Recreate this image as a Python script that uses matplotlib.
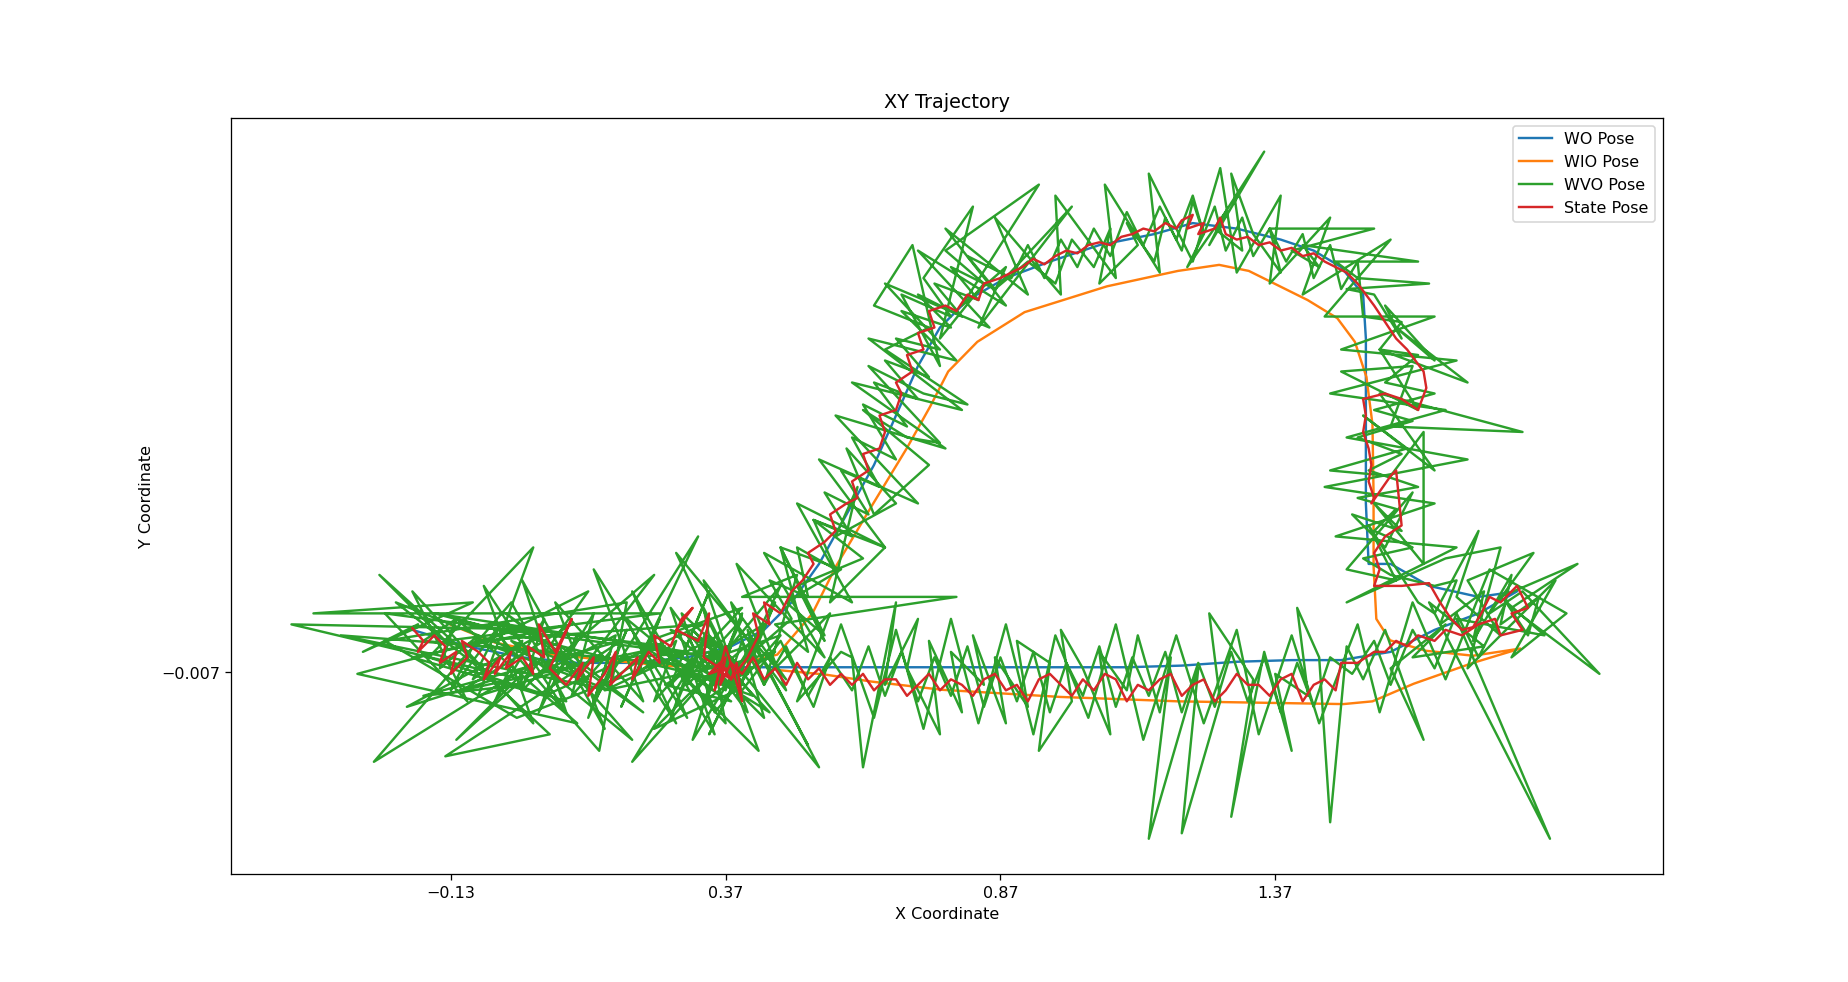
import matplotlib
matplotlib.use("Agg")
import matplotlib.pyplot as plt

# --- trajectory data (x, y) ---
wo_x = [-0.20, -0.10, 0.00, 0.10, 0.20, 0.30, 0.38, 0.44, 0.49, 0.54, 0.59, 0.64, 0.68, 0.72,
        0.76, 0.81, 0.88, 0.96, 1.05, 1.15, 1.22, 1.30, 1.38, 1.44, 1.49, 1.53, 1.535, 1.535,
        1.535, 1.54, 1.58, 1.65, 1.74, 1.81, 1.74, 1.66, 1.58, 1.49, 1.40, 1.30, 1.20, 1.10,
        1.00, 0.90, 0.80, 0.70, 0.60, 0.50, 0.40]
wo_y = [0.07, 0.04, 0.02, 0.01, 0.01, 0.02, 0.04, 0.07, 0.12, 0.19, 0.28, 0.37, 0.46, 0.55,
        0.62, 0.67, 0.71, 0.74, 0.77, 0.79, 0.81, 0.80, 0.78, 0.76, 0.73, 0.68, 0.60, 0.45,
        0.30, 0.19, 0.19, 0.15, 0.13, 0.14, 0.10, 0.07, 0.03, 0.015, 0.015, 0.012, 0.005, 0.002,
        0.002, 0.002, 0.002, 0.002, 0.002, 0.002, 0.002]

wio_x = [-0.13, -0.05, 0.056, 0.163, 0.27, 0.378, 0.464, 0.528, 0.571, 0.635, 0.70, 0.742,
         0.775, 0.828, 0.914, 1.064, 1.193, 1.268, 1.322, 1.429, 1.483, 1.515, 1.536, 1.547,
         1.549, 1.549, 1.554, 1.579, 1.644, 1.73, 1.816, 1.73, 1.622, 1.547, 1.494, 1.193,
         0.979, 0.764, 0.635, 0.549, 0.464]
wio_y = [0.079, 0.047, 0.025, 0.014, 0.004, 0.004, 0.025, 0.10, 0.186, 0.294, 0.401, 0.476,
         0.54, 0.594, 0.648, 0.695, 0.723, 0.734, 0.723, 0.67, 0.637, 0.594, 0.53, 0.444,
         0.315, 0.186, 0.09, 0.051, 0.032, 0.023, 0.036, 0.01, -0.028, -0.06, -0.065, -0.06,
         -0.052, -0.039, -0.024, -0.011, -0.003]

# visual odometry, first lap (large spikes)
wvo_lap1_x = [
    -0.19, -0.29, -0.09, -0.38, 0.25, -0.14, -0.26, -0.05, -0.21, 0.05, -0.42, 0.00, -0.12, 0.02,
    -0.27, -0.02, 0.08, -0.17, 0.02, -0.08, 0.15, -0.12, 0.10, -0.30, -0.04, 0.12, 0.00, -0.18,
    0.18, -0.14, 0.05, -0.09, -0.23, 0.12, -0.03, 0.22, 0.07, -0.16, 0.30, -0.01, -0.25, 0.19,
    0.14, -0.06, 0.26, -0.11, 0.09, -0.20, 0.04, 0.33, -0.08, 0.16, -0.33, 0.06, 0.20, -0.02,
    0.11, 0.24, 0.03, 0.17,
    0.13, 0.32, 0.21, 0.28, 0.19, 0.36, 0.23, 0.40, 0.27, 0.34, 0.29, 0.45, 0.31, 0.38, 0.28,
    0.42, 0.34, 0.47, 0.37, 0.54, 0.41, 0.44, 0.50, 0.40, 0.79, 0.46, 0.52, 0.47, 0.55, 0.48,
    0.58,
    0.47, 0.55, 0.50, 0.62, 0.53, 0.66, 0.56, 0.61, 0.57, 0.68, 0.59, 0.64, 0.74, 0.62, 0.70,
    0.76, 0.63, 0.73, 0.81, 0.66, 0.74, 0.64, 0.71, 0.76, 0.69, 0.78, 0.73, 0.82, 0.76, 0.84,
    0.77, 0.94, 0.80, 0.88, 0.83, 1.00, 0.86,
    0.92, 0.97, 1.00, 1.04, 1.07, 1.05, 1.12, 1.10, 1.15, 1.17, 1.20, 1.22, 1.24, 1.21, 1.28,
    1.25, 1.35, 1.26, 1.31, 1.29, 1.33, 1.38, 1.36, 1.55, 1.40, 1.45, 1.42, 1.63, 1.48, 1.52,
    1.65, 1.50,
    1.55, 1.60, 1.57, 1.66, 1.59, 1.72, 1.56, 1.63, 1.49, 1.62, 1.58, 1.82, 1.56, 1.66, 1.53,
    1.61, 1.47, 1.58, 1.64, 1.64, 1.55, 1.60, 1.51, 1.57, 1.62, 1.50, 1.59, 1.54, 1.63,
    1.66, 1.74, 1.70, 1.78, 1.72, 1.84, 1.76, 1.82, 1.96, 1.80, 1.92, 1.78, 1.86, 1.70, 1.87,
    1.65, 1.75, 1.62, 1.68, 1.58, 1.64, 1.57, 1.53,
    1.50, 1.47, 1.45, 1.41, 1.43, 1.37, 1.40, 1.35, 1.29, 1.33, 1.25, 1.27, 1.20, 1.23, 1.14,
    1.18, 1.16, 1.12, 1.10, 1.05, 1.07, 1.02, 0.98, 1.00, 0.94, 0.96, 0.90, 0.92, 0.86, 0.88,
    0.82, 0.84, 0.78, 0.80, 0.74, 0.76, 0.70, 0.72, 0.66, 0.68, 0.62, 0.60,
    0.58, 0.50, 0.56, 0.45, 0.52, 0.42, 0.48, 0.38, 0.44, 0.35, 0.46, 0.33, 0.40, 0.30, 0.43,
    0.36, 0.27, 0.39, 0.24, 0.37, 0.20, 0.34, 0.41, 0.29, 0.35, 0.47, 0.32, 0.22, 0.38, 0.26,
    0.44, 0.31, 0.36, 0.18, 0.40, 0.33, 0.37, 0.28, 0.42, 0.34, 0.15, 0.39, 0.30, 0.35, 0.38,
    0.36]
wvo_lap1_y = [
    0.08, 0.03, 0.12, 0.10, 0.10, 0.05, 0.17, -0.02, -0.07, 0.07, 0.08, -0.02, -0.13, 0.01,
    -0.17, 0.12, -0.06, 0.02, 0.22, -0.05, 0.02, 0.09, -0.10, -0.01, 0.06, 0.14, -0.03, -0.05,
    0.05, -0.16, -0.12, 0.01, 0.12, -0.02, 0.10, -0.08, 0.04, 0.10, 0.03, -0.09, 0.05, 0.12,
    -0.15, 0.08, 0.04, -0.04, 0.08, 0.02, -0.05, 0.08, 0.05, -0.04, 0.06, 0.03, -0.13, 0.05,
    0.00, 0.17, -0.01, 0.06,
    -0.06, 0.24, 0.01, -0.10, 0.09, -0.05, 0.05, 0.11, -0.03, 0.14, 0.02, -0.08, 0.07, 0.00,
    0.21, 0.04, -0.12, 0.15, 0.03, -0.18, 0.07, -0.03, 0.17, 0.13, 0.13, 0.08, 0.03, 0.22,
    0.06, 0.12, 0.18,
    0.22, 0.05, 0.15, 0.20, 0.27, 0.22, 0.12, 0.33, 0.24, 0.30, 0.40, 0.28, 0.37, 0.47, 0.42,
    0.41, 0.55, 0.50, 0.48, 0.58, 0.62, 0.66, 0.77, 0.55, 0.68, 0.64, 0.71, 0.84, 0.60, 0.70,
    0.76, 0.88, 0.66, 0.73, 0.62, 0.84, 0.69,
    0.74, 0.70, 0.78, 0.73, 0.80, 0.70, 0.77, 0.81, 0.74, 0.82, 0.76, 0.85, 0.79, 0.73, 0.83,
    0.77, 0.94, 0.80, 0.76, 0.90, 0.79, 0.72, 0.80, 0.80, 0.76, 0.73, 0.77, 0.74, 0.74, 0.71,
    0.70, 0.69,
    0.68, 0.60, 0.66, 0.56, 0.62, 0.52, 0.58, 0.47, 0.54, 0.55, 0.44, 0.43, 0.50, 0.36, 0.46,
    0.40, 0.36, 0.35, 0.43, 0.19, 0.30, 0.25, 0.28, 0.22, 0.32, 0.18, 0.16, 0.26, 0.12,
    0.10, 0.25, 0.13, 0.06, 0.16, 0.21, 0.10, 0.14, -0.01, 0.11, 0.19, 0.13, 0.06, 0.09, -0.31,
    0.12, 0.04, 0.02, 0.08, 0.00, -0.13, 0.07, -0.02,
    0.04, -0.28, 0.02, 0.11, -0.05, -0.01, -0.15, 0.03, -0.27, -0.02, 0.10, -0.06, -0.30, 0.00,
    -0.31, 0.02, -0.08, 0.06, -0.04, 0.03, -0.12, 0.00, 0.07, -0.06, -0.15, 0.01, 0.05, -0.07,
    0.02, -0.10, 0.06, -0.03, 0.03, -0.08, 0.05, -0.12, 0.00, 0.09, -0.03, 0.12, -0.18, 0.02,
    0.03, -0.06, 0.10, -0.01, -0.14, 0.05, -0.02, 0.12, -0.09, 0.00, 0.03, -0.06, 0.09, -0.02,
    -0.15, 0.04, 0.07, -0.04, -0.11, 0.02, -0.17, 0.06, -0.01, 0.10, -0.08, 0.06, 0.01, 0.04,
    -0.06, -0.03, 0.08, -0.13, 0.03, 0.02, -0.03, 0.11, -0.10, 0.00, -0.05, 0.05, -0.04, 0.01,
    0.06, -0.03, 0.04, 0.00]

# visual odometry, second lap (closer to the path)
wvo_lap2_x = [
    -0.18, -0.12, -0.15, -0.08, -0.13, -0.04, -0.09, 0.00, -0.05, 0.04, 0.00, 0.07, 0.03, 0.10,
    0.06, 0.13, 0.09, 0.16, 0.12, 0.19, 0.15, 0.22, 0.18, 0.25, 0.21, 0.28, 0.24, 0.31, 0.27,
    0.34, 0.30, 0.37, 0.33, 0.40, 0.36, 0.43, 0.39, 0.46, 0.42, 0.49, 0.45, 0.52,
    0.50, 0.57, 0.53, 0.60, 0.55, 0.63, 0.58, 0.65, 0.60, 0.68, 0.62, 0.70, 0.64, 0.72, 0.66,
    0.74, 0.68, 0.76, 0.69, 0.78, 0.72, 0.80, 0.75, 0.83, 0.78, 0.86, 0.81, 0.89,
    0.92, 0.95, 0.98, 1.01, 1.04, 1.07, 1.10, 1.13, 1.16, 1.19, 1.22, 1.24, 1.26, 1.28, 1.31,
    1.33, 1.36, 1.39, 1.42, 1.44, 1.47, 1.49, 1.52,
    1.53, 1.60, 1.56, 1.63, 1.57, 1.66, 1.55, 1.62, 1.52, 1.60, 1.54, 1.63, 1.52, 1.59, 1.55,
    1.62, 1.53, 1.58, 1.66,
    1.70, 1.67, 1.75, 1.73, 1.80, 1.78, 1.85, 1.83, 1.79, 1.74, 1.70, 1.66, 1.62, 1.58, 1.55,
    1.51,
    1.47, 1.44, 1.41, 1.38, 1.35, 1.32, 1.29, 1.26, 1.23, 1.20, 1.17, 1.14, 1.11, 1.08, 1.05,
    1.02, 0.99, 0.96, 0.93, 0.90, 0.87, 0.84, 0.81, 0.78, 0.75, 0.72, 0.69, 0.66, 0.63, 0.60,
    0.56, 0.52, 0.48, 0.44, 0.40, 0.37, 0.34, 0.38, 0.35]
wvo_lap2_y = [
    0.05, 0.09, 0.00, 0.06, -0.04, 0.08, -0.02, 0.05, -0.06, 0.09, -0.04, 0.03, -0.08, 0.06,
    -0.02, 0.10, -0.05, 0.03, -0.09, 0.07, -0.03, 0.02, -0.07, 0.09, -0.01, 0.05, -0.06, 0.02,
    -0.09, 0.08, -0.03, 0.04, -0.07, 0.10, 0.00, 0.06, -0.05, 0.12, 0.03, 0.09, 0.16, 0.13,
    0.22, 0.18, 0.27, 0.24, 0.32, 0.28, 0.36, 0.33, 0.42, 0.38, 0.48, 0.44, 0.52, 0.49, 0.56,
    0.53, 0.60, 0.58, 0.65, 0.62, 0.68, 0.64, 0.70, 0.67, 0.73, 0.69, 0.75, 0.71,
    0.77, 0.71, 0.78, 0.73, 0.80, 0.75, 0.83, 0.77, 0.84, 0.78, 0.86, 0.79, 0.84, 0.76, 0.82,
    0.75, 0.80, 0.74, 0.79, 0.71, 0.77, 0.69, 0.74,
    0.64, 0.63, 0.58, 0.57, 0.52, 0.50, 0.47, 0.45, 0.42, 0.39, 0.36, 0.33, 0.31, 0.29, 0.25,
    0.22, 0.20, 0.17, 0.15,
    0.16, 0.08, 0.14, 0.05, 0.17, 0.08, 0.13, 0.06, 0.12, 0.02, 0.10, 0.00, 0.07, -0.03, 0.05,
    -0.01,
    0.02, -0.07, 0.01, -0.08, 0.02, -0.06, 0.03, -0.07, 0.01, -0.08, 0.03, -0.05, 0.02, -0.07,
    0.04, -0.05, 0.01, -0.08, 0.03, -0.06, 0.02, -0.07, 0.04, -0.05, 0.02, -0.06, 0.03, -0.05,
    0.04, -0.04,
    0.02, -0.05, 0.04, -0.03, 0.05, -0.04, 0.03, -0.01, 0.02]

# visual odometry, third lap as (x, y) pairs (medium spread)
wvo_lap3 = [
    (-0.25, 0.10), (-0.10, -0.06), (-0.20, 0.14), (0.02, -0.10), (-0.07, 0.15), (0.08, -0.08),
    (0.00, 0.16), (0.15, -0.11), (0.06, 0.12), (0.22, -0.06), (0.13, 0.18), (0.30, -0.09),
    (0.20, 0.14), (0.35, -0.12), (0.27, 0.11), (0.41, -0.08), (0.33, 0.16), (0.48, -0.04),
    (0.39, 0.19), (0.55, 0.02), (0.44, 0.21),
    (0.60, 0.12), (0.50, 0.30), (0.66, 0.22), (0.54, 0.38), (0.72, 0.30), (0.57, 0.46),
    (0.77, 0.40), (0.60, 0.52), (0.80, 0.47), (0.63, 0.60), (0.79, 0.56), (0.66, 0.70),
    (0.85, 0.62), (0.72, 0.76), (0.88, 0.66), (0.77, 0.80), (0.92, 0.68),
    (0.86, 0.82), (0.98, 0.68), (0.97, 0.86), (1.08, 0.71), (1.06, 0.88), (1.16, 0.72),
    (1.14, 0.90), (1.22, 0.74), (1.27, 0.91), (1.30, 0.72), (1.38, 0.86), (1.36, 0.70),
    (1.47, 0.82), (1.42, 0.68), (1.58, 0.78), (1.46, 0.64),
    (1.66, 0.64), (1.49, 0.58), (1.70, 0.56), (1.47, 0.50), (1.68, 0.47), (1.50, 0.42),
    (1.72, 0.38), (1.46, 0.33), (1.66, 0.30), (1.48, 0.24), (1.70, 0.22), (1.50, 0.12),
    (1.68, 0.20),
    (1.78, 0.22), (1.72, 0.00), (1.88, 0.16), (1.80, 0.02), (1.90, 0.10), (1.76, 0.18),
    (1.68, -0.02), (1.62, 0.12), (1.56, -0.08), (1.52, 0.08),
    (1.45, -0.10), (1.40, 0.06), (1.34, -0.12), (1.30, 0.07), (1.24, -0.10), (1.19, 0.06),
    (1.13, -0.13), (1.08, 0.08), (1.03, -0.09), (0.97, 0.06), (0.93, -0.12), (0.88, 0.08),
    (0.83, -0.10), (0.78, 0.09), (0.73, -0.11), (0.68, 0.07), (0.64, -0.09), (0.58, 0.08),
    (0.53, -0.07), (0.47, 0.05), (0.40, -0.04), (0.36, 0.01)]

state_x = [
    -0.20, -0.18, -0.19, -0.16, -0.14, -0.15, -0.12, -0.13, -0.10, -0.11, -0.08, -0.06, -0.07,
    -0.04, -0.05, -0.02, -0.03, 0.00, 0.02, 0.01, 0.04, 0.03, 0.06, 0.09, 0.05, 0.08, 0.11,
    0.10, 0.13, 0.12, 0.15, 0.17, 0.16, 0.19, 0.21, 0.20, 0.23, 0.25, 0.24, 0.27, 0.29, 0.31,
    0.28, 0.32, 0.34, 0.33, 0.36, 0.35, 0.37, 0.40, 0.39, 0.38, 0.41, 0.43, 0.42, 0.45, 0.44,
    0.47, 0.49,
    0.51, 0.53, 0.52, 0.55, 0.57, 0.56, 0.59, 0.61, 0.60, 0.63, 0.62, 0.65, 0.66, 0.65, 0.68,
    0.69, 0.68, 0.71, 0.70, 0.73, 0.72, 0.75, 0.74, 0.77, 0.79, 0.81, 0.83, 0.84, 0.87, 0.89,
    0.91, 0.93, 0.95, 0.97, 0.99, 1.01, 1.03, 1.05, 1.07, 1.09, 1.11, 1.13, 1.15, 1.17, 1.19,
    1.20, 1.22, 1.21, 1.24, 1.23, 1.26, 1.27, 1.28, 1.30, 1.32, 1.34, 1.36, 1.38, 1.40, 1.42,
    1.44, 1.46, 1.48, 1.50,
    1.52, 1.55, 1.57, 1.59, 1.61, 1.64, 1.645, 1.63, 1.60, 1.57, 1.53, 1.535, 1.53, 1.54, 1.545,
    1.54, 1.55, 1.545, 1.58, 1.59, 1.60, 1.57, 1.55, 1.56, 1.55,
    1.57, 1.60, 1.65, 1.67, 1.69, 1.71, 1.73, 1.745, 1.76, 1.78, 1.80, 1.81, 1.83, 1.80, 1.82,
    1.78, 1.77, 1.74, 1.71, 1.68, 1.66, 1.63, 1.61, 1.59, 1.57, 1.55, 1.52, 1.49,
    1.48, 1.46, 1.44, 1.42, 1.40, 1.38, 1.36, 1.34, 1.32, 1.30, 1.28, 1.26, 1.24, 1.22, 1.20,
    1.18, 1.16, 1.14, 1.12, 1.10, 1.08, 1.06, 1.04, 1.02, 1.00, 0.98, 0.96, 0.94, 0.92, 0.90,
    0.88, 0.86, 0.84, 0.82, 0.80, 0.78, 0.76, 0.74, 0.72, 0.70, 0.68, 0.66, 0.64, 0.62, 0.60,
    0.58, 0.56, 0.54, 0.52, 0.50, 0.48, 0.46, 0.44, 0.42, 0.40, 0.38, 0.36, 0.37, 0.35, 0.38,
    0.36, 0.34, 0.37]
state_y = [
    0.073, 0.05, 0.03, 0.06, 0.04, 0.01, 0.03, -0.01, 0.02, 0.05, 0.03, 0.01, -0.02, 0.02,
    -0.01, 0.03, 0.00, 0.02, -0.01, 0.04, 0.02, 0.08, 0.03, 0.09, 0.00, -0.03, 0.01, -0.02,
    0.02, -0.05, -0.01, 0.03, -0.03, 0.00, 0.02, -0.02, 0.03, 0.01, 0.06, 0.04, 0.09, 0.11,
    0.07, 0.05, 0.10, 0.02, 0.00, -0.04, 0.04, -0.06, 0.01, -0.02, 0.02, 0.06, 0.10, 0.08,
    0.12, 0.10, 0.14,
    0.16, 0.19, 0.21, 0.23, 0.25, 0.28, 0.30, 0.31, 0.34, 0.36, 0.39, 0.40, 0.43, 0.46, 0.47,
    0.50, 0.52, 0.54, 0.57, 0.58, 0.61, 0.62, 0.65, 0.66, 0.65, 0.68, 0.67, 0.70, 0.71, 0.72,
    0.73, 0.745, 0.735, 0.75, 0.76, 0.755, 0.77, 0.775, 0.77, 0.785, 0.79, 0.80, 0.795, 0.81,
    0.80, 0.815, 0.825, 0.80, 0.81, 0.79, 0.80, 0.82, 0.79, 0.78, 0.785, 0.77, 0.775, 0.76,
    0.765, 0.75, 0.755, 0.74, 0.73, 0.72,
    0.70, 0.66, 0.63, 0.60, 0.58, 0.54, 0.51, 0.47, 0.49, 0.50, 0.49, 0.46, 0.43, 0.40, 0.37,
    0.34, 0.31, 0.30, 0.35, 0.36, 0.26, 0.24, 0.21, 0.18, 0.15,
    0.15, 0.15, 0.155, 0.12, 0.09, 0.07, 0.075, 0.10, 0.13, 0.12, 0.14, 0.15, 0.11, 0.10, 0.07,
    0.06, 0.09, 0.08, 0.06, 0.07, 0.05, 0.06, 0.04, 0.05, 0.03, 0.03, 0.01, 0.01,
    -0.04, -0.02, -0.03, -0.06, -0.01, -0.02, -0.05, -0.03, -0.03, -0.01, -0.04, -0.06, -0.02,
    -0.03, -0.05, -0.01, -0.02, -0.04, -0.03, -0.06, -0.02, -0.01, -0.04, -0.02, -0.05, -0.03,
    -0.01, -0.02, -0.06, -0.03, -0.04, -0.01, -0.02, -0.05, -0.03, -0.02, -0.04, -0.01, -0.03,
    -0.05, -0.02, -0.02, -0.04, -0.01, -0.03,
    -0.01, -0.03, 0.00, -0.02, 0.01, -0.03, 0.00, -0.02, 0.02, -0.01, 0.01, -0.03, 0.02, 0.00,
    -0.02, 0.01, -0.01, 0.00]

x_ticks = [-0.13, 0.37, 0.87, 1.37]
y_ticks = [-0.007]

wvo_x = wvo_lap1_x + wvo_lap2_x + [p[0] for p in wvo_lap3]
wvo_y = wvo_lap1_y + wvo_lap2_y + [p[1] for p in wvo_lap3]

fig, ax = plt.subplots(figsize=(16, 8.505), dpi=115.5)

ax.plot(wo_x, wo_y, label="WO Pose")
ax.plot(wio_x, wio_y, label="WIO Pose")
ax.plot(wvo_x, wvo_y, label="WVO Pose")
ax.plot(state_x, state_y, label="State Pose")

ax.set_xlim(-0.53, 2.076)
ax.set_ylim(-0.374, 1.002)
ax.set_xticks(x_ticks)
ax.set_yticks(y_ticks)

ax.set_title("XY Trajectory")
ax.set_xlabel("X Coordinate")
ax.set_ylabel("Y Coordinate")
ax.legend(loc="upper right")

fig.savefig("out.png", dpi=115.5)
